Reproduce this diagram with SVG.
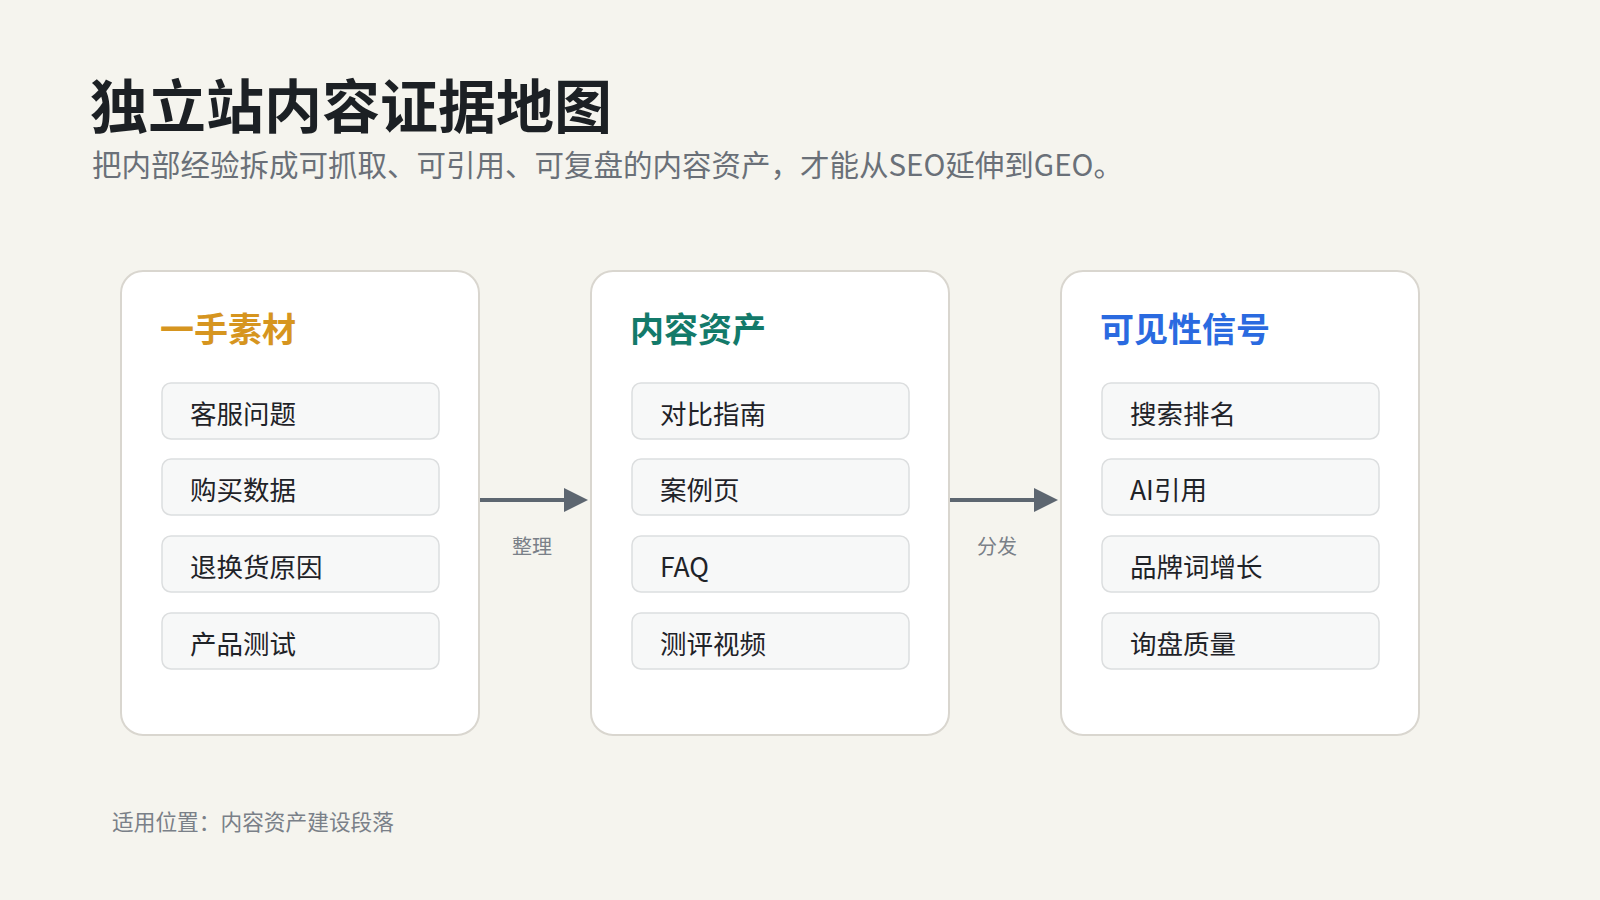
<svg xmlns="http://www.w3.org/2000/svg" width="1600" height="900" viewBox="0 0 1600 900">
<defs>
<style>
text{font-family:"Noto Sans CJK SC","Noto Sans",sans-serif}
.card{fill:#fff;stroke:#d9d6cf;stroke-width:2}
.item{fill:#f7f8f8;stroke:#dcdedf;stroke-width:1.5}
.it{font-size:26.5px;fill:#1f2328}
.ct{font-size:34px;font-weight:700}
.lbl{font-size:20px;fill:#7a8088}
.con{stroke:#5d6670;stroke-width:4;fill:none}
</style>
<marker id="ah" markerWidth="6" markerHeight="6" refX="5" refY="3" orient="auto" markerUnits="strokeWidth"><path d="M0,0 L6,3 L0,6 z" fill="#5d6670"/></marker>
</defs>
<rect width="1600" height="900" fill="#f5f4ee"/>
<text x="90" y="128" font-size="58" font-weight="700" fill="#1c2024">独立站内容证据地图</text>
<text x="92" y="176" font-size="29.5" fill="#6a7078">把内部经验拆成可抓取、可引用、可复盘的内容资产，才能从SEO延伸到GEO。</text>
<g id="node-1">
<rect class="card" x="121" y="271" width="358" height="464" rx="22"/>
<text class="ct" x="160" y="342" fill="#d6951f">一手素材</text>
<rect class="item" x="162" y="383" width="277" height="56" rx="9"/><text class="it" x="190" y="424">客服问题</text>
<rect class="item" x="162" y="459" width="277" height="56" rx="9"/><text class="it" x="190" y="500">购买数据</text>
<rect class="item" x="162" y="536" width="277" height="56" rx="9"/><text class="it" x="190" y="577">退换货原因</text>
<rect class="item" x="162" y="613" width="277" height="56" rx="9"/><text class="it" x="190" y="654">产品测试</text>
</g>
<g id="node-2">
<rect class="card" x="591" y="271" width="358" height="464" rx="22"/>
<text class="ct" x="630" y="342" fill="#137a6a">内容资产</text>
<rect class="item" x="632" y="383" width="277" height="56" rx="9"/><text class="it" x="660" y="424">对比指南</text>
<rect class="item" x="632" y="459" width="277" height="56" rx="9"/><text class="it" x="660" y="500">案例页</text>
<rect class="item" x="632" y="536" width="277" height="56" rx="9"/><text class="it" x="660" y="577">FAQ</text>
<rect class="item" x="632" y="613" width="277" height="56" rx="9"/><text class="it" x="660" y="654">测评视频</text>
</g>
<g id="node-3">
<rect class="card" x="1061" y="271" width="358" height="464" rx="22"/>
<text class="ct" x="1100" y="342" fill="#2a6ae0">可见性信号</text>
<rect class="item" x="1102" y="383" width="277" height="56" rx="9"/><text class="it" x="1130" y="424">搜索排名</text>
<rect class="item" x="1102" y="459" width="277" height="56" rx="9"/><text class="it" x="1130" y="500">AI引用</text>
<rect class="item" x="1102" y="536" width="277" height="56" rx="9"/><text class="it" x="1130" y="577">品牌词增长</text>
<rect class="item" x="1102" y="613" width="277" height="56" rx="9"/><text class="it" x="1130" y="654">询盘质量</text>
</g>
<g id="connectors">
<line class="con" x1="480" y1="500" x2="584" y2="500" marker-end="url(#ah)"/>
<line class="con" x1="950" y1="500" x2="1054" y2="500" marker-end="url(#ah)"/>
<text class="lbl" x="532" y="554" text-anchor="middle">整理</text>
<text class="lbl" x="997" y="554" text-anchor="middle">分发</text>
</g>
<text x="112" y="830" font-size="21.7" fill="#7a8088">适用位置：内容资产建设段落</text>
</svg>
